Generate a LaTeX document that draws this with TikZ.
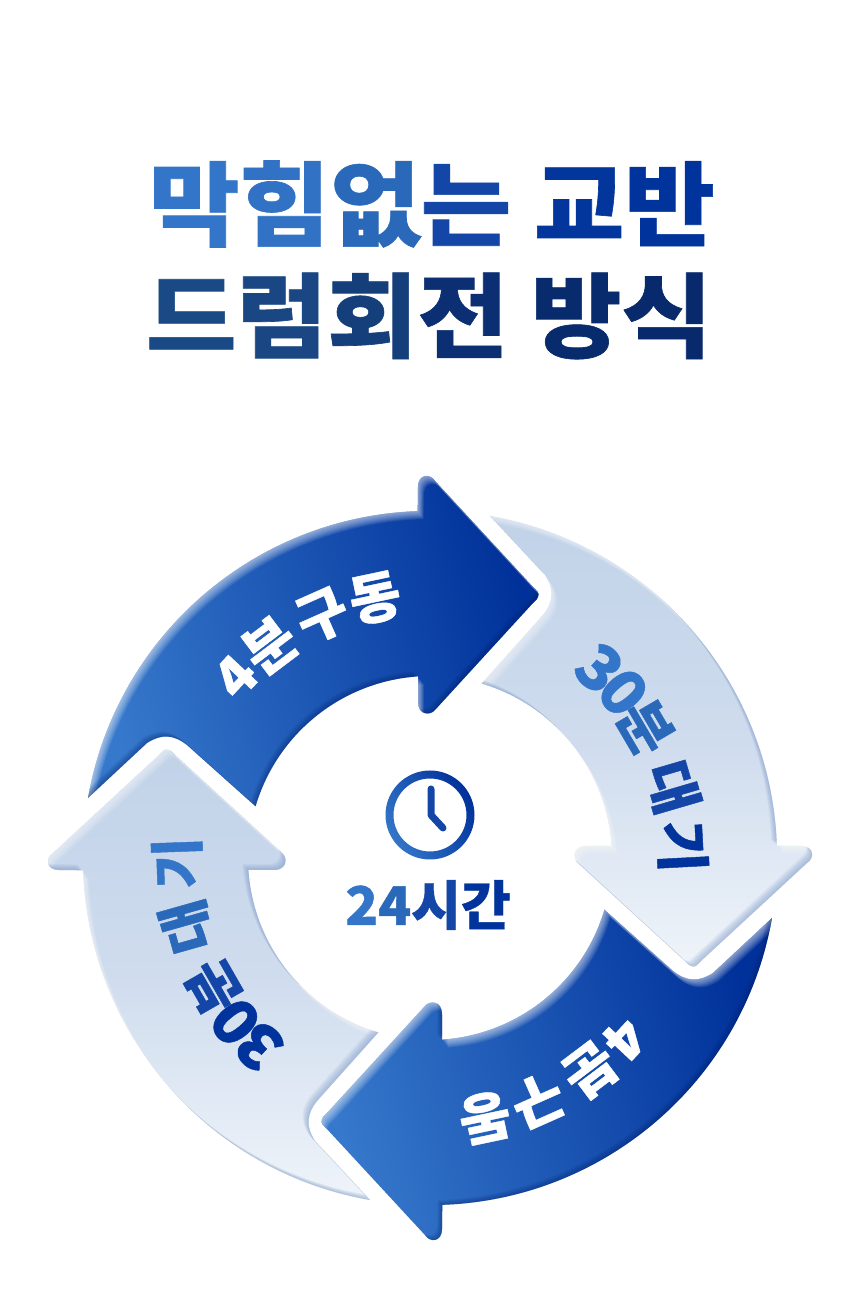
\documentclass[tikz,border=0pt]{standalone}
\usepackage{fontspec}
\usetikzlibrary{decorations.text}
\newfontfamily\krb{Noto Sans CJK KR Black}[FakeStretch=1.07,FakeBold=0.7]
\newfontfamily\krc{Noto Sans CJK KR Black}[FakeStretch=1.02,FakeBold=0.8,WordSpace=0.35]
\newfontfamily\krd{Noto Sans CJK KR Black}[FakeStretch=1.021,FakeBold=0.8,WordSpace=0.7]
\newcommand{\lab}{\krc\fontsize{55}{55}\selectfont}
\newcommand{\labw}{\krd\fontsize{55}{55}\selectfont}
\newcommand{\digs}{\krd\fontsize{62}{62}\selectfont}
\definecolor{tA}{HTML}{3375C8}\definecolor{tB}{HTML}{3172C5}\definecolor{tC}{HTML}{2A69BA}\definecolor{tD}{HTML}{1446A8}\definecolor{tE}{HTML}{02369C}\definecolor{tF}{HTML}{00349C}
\definecolor{uA}{HTML}{1A4A85}\definecolor{uB}{HTML}{1A4783}\definecolor{uC}{HTML}{153F7B}\definecolor{uD}{HTML}{0B2F72}\definecolor{uE}{HTML}{082B6E}\definecolor{uF}{HTML}{082A6C}
\definecolor{dkL}{HTML}{3678CB}\definecolor{dkR}{HTML}{00319A}
\definecolor{ltT}{HTML}{C1D2E8}\definecolor{ltM}{HTML}{CFDCEE}\definecolor{ltB}{HTML}{EFF4F9}
\definecolor{edgeD}{HTML}{001E66}\definecolor{edgeL}{HTML}{7F9CCB}
\newcommand{\shp}{(-342,60) arc[start angle=170.05,end angle=92,radius=347] -- (-12,371) .. controls (-12,384) and (0,385) .. (5,377) -- (103,271) .. controls (107,267) and (110,265) .. (108,261) .. controls (108,259) and (106,258) .. (103,255) -- (5,148) .. controls (0,142) and (-12,143) .. (-12,156) -- (-12,181.6) arc[start angle=93.8,end angle=163.5,radius=182] -- (-243,113) .. controls (-257,124) and (-269,124) .. (-283,115) -- cycle}
\newcommand{\crescent}[6]{\foreach \k in {1,...,#6}{\fill[#2,fill opacity=#5,even odd rule,shift={(\k*#3,\k*#4)},rotate=#1] (-1000,-1000) rectangle (1000,1000) \shp;}}
\newcommand{\darkarrow}[1]{\shade[left color=dkL,right color=dkR,shading angle=105,rotate=#1] \shp;
 \begin{scope}\clip[rotate=#1] \shp; \crescent{#1}{white}{.6}{-.8}{.07}{10}\crescent{#1}{edgeD}{-.6}{.6}{.05}{8}\end{scope}}
\newcommand{\lightarrow}[1]{\shade[top color=ltT,bottom color=ltB,middle color=ltM,rotate=#1] \shp;
 \begin{scope}\clip[rotate=#1] \shp; \crescent{#1}{white}{.6}{-.8}{.07}{10}\crescent{#1}{edgeL}{-.6}{.6}{.07}{10}\end{scope}}
\begin{document}
\begin{tikzpicture}[x=1pt,y=1pt]
\useasboundingbox (-430,-458) rectangle (430,858);
\fill[white] (-430,-458) rectangle (430,858);
\node[inner sep=0pt,anchor=center] (title1) at (2,654) {\krb\fontsize{92}{92}\selectfont{\color{tA}막}{\color{tB}힘}{\color{tC}없}{\color{tD}는} {\color{tE}교}{\color{tF}반}};
\node[inner sep=0pt,anchor=center] (title2) at (-1,542) {\krb\fontsize{92}{92}\selectfont{\color{uA}드}{\color{uB}럼}{\color{uC}회}{\color{uD}전} {\color{uE}방}{\color{uF}식}};
\darkarrow{0}
\lightarrow{-90}
\darkarrow{180}
\lightarrow{90}
\path[decorate,decoration={text along path,text={|\lab\color{white}|4분 구동}}] (141:246) arc[start angle=141,end angle=85,radius=246];
\path[decorate,decoration={text along path,text={|\lab\color{white}|4분 구동}}] (-39:246) arc[start angle=-39,end angle=-95,radius=246];
\path[decorate,decoration={text along path,text={|\digs\color{tA}|3{\kern-8pt 0}|\labw\color{tC}|{\kern-7pt 분} |\labw\color{tD}|대|\labw\color{tF}|{\kern4pt 기}}}] (53:232) arc[start angle=53,end angle=-15,radius=232];
\path[decorate,decoration={text along path,text={|\digs\color{tF}|3{\kern-8pt 0}|\labw\color{tD}|{\kern-7pt 분} |\labw\color{tC}|대|\labw\color{tA}|{\kern8pt 기}}}] (-127.5:232) arc[start angle=-127.5,end angle=-197,radius=232];
\shade[even odd rule,left color=tA,right color=dkR,shading angle=120] (0,43) circle[radius=44.5] (0,43) circle[radius=36.5];
\coordinate (handtop) at (1,69);
\coordinate (handmid) at (1,43);
\coordinate (handend) at (13,30);
\draw[color=tD,line width=7pt,line cap=round,line join=round] (handtop) -- (handmid) -- (handend);
\node[inner sep=0pt,anchor=center] (hours) at (-2,-47) {\krc\fontsize{53}{53}\selectfont{\color{tA}2}{\color{tC}4}{\color{tD}시}{\color{tF}간}};
\end{tikzpicture}
\end{document}
